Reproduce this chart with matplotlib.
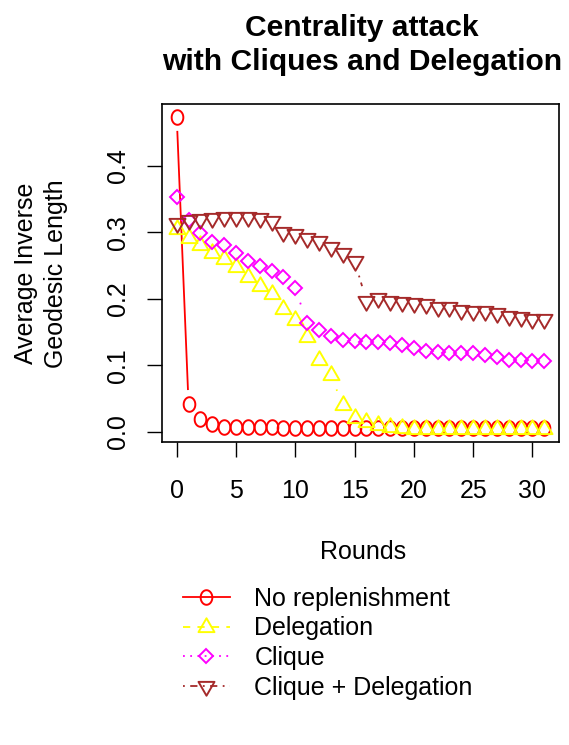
import matplotlib
matplotlib.use("Agg")
import matplotlib.pyplot as plt
from matplotlib.lines import Line2D
from matplotlib.path import Path
import numpy as np

plt.rcParams['font.family'] = ['Liberation Sans', 'DejaVu Sans']

rounds = list(range(32))

no_replenishment = [0.4745, 0.041, 0.0185, 0.011, 0.0075, 0.007, 0.007, 0.0065,
                    0.0065, 0.006, 0.006, 0.006, 0.006, 0.006, 0.006, 0.006,
                    0.006, 0.006, 0.006, 0.006, 0.006, 0.006, 0.006, 0.006,
                    0.006, 0.006, 0.006, 0.006, 0.006, 0.006, 0.006, 0.006]
delegation = [0.3045, 0.2915, 0.2805, 0.2695, 0.2595, 0.2485, 0.2335, 0.22,
              0.2075, 0.184, 0.1675, 0.1425, 0.1075, 0.085, 0.04, 0.02,
              0.014, 0.01, 0.007, 0.005, 0.0045, 0.004, 0.004, 0.004,
              0.004, 0.004, 0.004, 0.004, 0.004, 0.004, 0.004, 0.004]
clique = [0.353, 0.318, 0.2985, 0.286, 0.281, 0.2685, 0.257, 0.2495,
          0.242, 0.2335, 0.216, 0.1635, 0.1525, 0.1445, 0.1385, 0.136,
          0.135, 0.135, 0.134, 0.13, 0.126, 0.122, 0.12, 0.1185,
          0.1185, 0.118, 0.116, 0.113, 0.1085, 0.108, 0.106, 0.106]
clique_delegation = [0.3145, 0.318, 0.3195, 0.322, 0.3235, 0.3235, 0.3235, 0.322,
                     0.317, 0.301, 0.297, 0.292, 0.287, 0.278, 0.2695, 0.257,
                     0.197, 0.201, 0.197, 0.1945, 0.193, 0.192, 0.188, 0.187,
                     0.183, 0.182, 0.181, 0.178, 0.1745, 0.172, 0.17, 0.17]

labels = ["No replenishment", "Delegation", "Clique", "Clique + Delegation"]

# marker shapes close to R's pch glyphs
t = np.linspace(0, 2 * np.pi, 60)
oval = Path(np.column_stack([0.8 * np.cos(t), np.sin(t)]), closed=True)
tri_up = Path([(0, 1.1547), (-1, -0.5774), (1, -0.5774), (0, 1.1547)], closed=True)
tri_down = Path([(0, -1.1547), (-1, 0.5774), (1, 0.5774), (0, -1.1547)], closed=True)

styles = [
    dict(color='#FF0000', dashes=None, marker=oval, ms=10.5),
    dict(color='#FFFF00', dashes=(4, 4), marker=tri_up, ms=13.3),
    dict(color='#FF00FF', dashes=(1, 3), marker='D', ms=6.8),
    dict(color='#A52A2A', dashes=(1, 3, 4, 3), marker=tri_down, ms=13.3),
]
series = [no_replenishment, delegation, clique, clique_delegation]

W, H = 569, 745
fig = plt.figure(figsize=(W / 100, H / 100), dpi=100)
ax = fig.add_axes([162 / W, 1 - 441.5 / H, (559 - 162) / W, (441.5 - 104) / H])

allv = np.concatenate(series)
lo, hi = allv.min(), allv.max()
span = hi - lo
ax.set_xlim(-0.04 * 31, 31 * 1.04)
ax.set_ylim(lo - 0.04 * span, hi + 0.04 * span)

lw = 1.3
gap = 15.3  # pixels left empty around each point (R type = "b")
for ys, st in zip(series, styles):
    ax.plot(rounds, ys, ls='none', marker=st['marker'], ms=st['ms'],
            mfc='none', mec=st['color'], mew=1.4, zorder=3)
    pts = ax.transData.transform(np.column_stack([rounds, ys]))
    inv = ax.transData.inverted()
    for p0, p1 in zip(pts[:-1], pts[1:]):
        d = p1 - p0
        L = np.hypot(*d)
        if L <= 2 * gap:
            continue
        a = inv.transform(p0 + d * gap / L)
        b = inv.transform(p1 - d * gap / L)
        ln, = ax.plot([a[0], b[0]], [a[1], b[1]], color=st['color'], lw=lw, zorder=2)
        if st['dashes']:
            ln.set_dashes(st['dashes'])

ax.set_xticks([0, 5, 10, 15, 20, 25, 30])
ax.set_yticks([0.0, 0.1, 0.2, 0.3, 0.4])
ax.set_yticklabels(['0.0', '0.1', '0.2', '0.3', '0.4'])
ax.tick_params(axis='both', labelsize=18, length=10.8, width=1.0, direction='out')
ax.tick_params(axis='x', pad=16)
ax.tick_params(axis='y', pad=12)
for lab in ax.get_yticklabels():
    lab.set_rotation(90)
    lab.set_va('center')
for sp in ax.spines.values():
    sp.set_linewidth(1.2)

fig.text(362 / W, 1 - 45 / H, "Centrality attack\nwith Cliques and Delegation",
         ha='center', va='center', fontsize=21.6, fontweight='bold', linespacing=1.25)
fig.text(41 / W, 1 - 273.5 / H, "Average Inverse\nGeodesic Length", rotation=90,
         ha='center', va='center', fontsize=18, linespacing=1.3)
fig.text(363 / W, 1 - 551.7 / H, "Rounds", ha='center', va='center', fontsize=18)

handles = []
for st in styles:
    h = Line2D([], [], color=st['color'], lw=lw, marker=st['marker'], ms=st['ms'],
               mfc='none', mec=st['color'], mew=1.4)
    if st['dashes']:
        h.set_dashes(st['dashes'])
    handles.append(h)
fig.legend(handles, labels, loc='upper left', bbox_to_anchor=(183 / W, 1 - 587 / H),
           frameon=False, fontsize=18, handlelength=1.86, handletextpad=1.0,
           labelspacing=0.22, borderpad=0, borderaxespad=0)

plt.savefig("out.png", dpi=100)
